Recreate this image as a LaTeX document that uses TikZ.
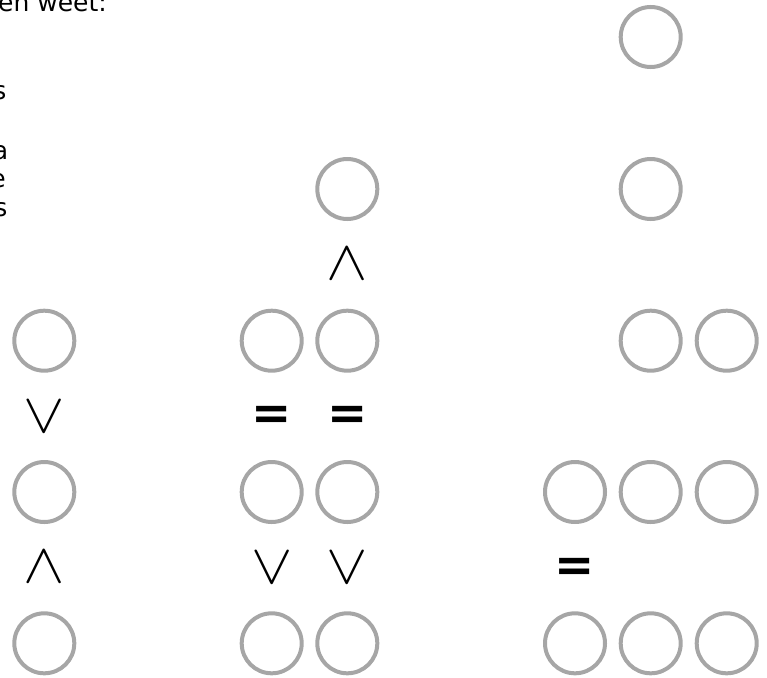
\documentclass[tikz,border=0pt]{standalone}
\usepackage{graphicx}
\usepackage{fontspec}
\setmainfont{DejaVu Sans}
\definecolor{ringgray}{RGB}{166,166,166}
\newcommand{\myvee}{\scalebox{6.2}[5.6]{$\vee$}}
\newcommand{\mywedge}{\scalebox{6.2}[5.6]{$\wedge$}}
\begin{document}
\begin{tikzpicture}[x=1pt,y=-1pt,
  ring/.style={circle,draw=ringgray,line width=4pt,minimum size=60pt,inner sep=0pt},
  cmp/.style={inner sep=0pt},
  eqsym/.style={inner sep=0pt,font=\fontsize{48}{48}\selectfont\bfseries},
  cut/.style={inner sep=0pt,anchor=base east,font=\fontsize{25}{29}\selectfont}]
\useasboundingbox (0,0) rectangle (767,677);
\clip (0,0) rectangle (767,677);
% cropped text fragments
\node[cut] (t1) at (107,12) {en weet:};
\node[cut] (t2) at (6.5,99) {s};
\node[cut] (t3) at (8.5,159) {a};
\node[cut] (t4) at (6,187) {e};
\node[cut] (t5) at (7.5,216) {s};
% column A
\node[ring] (a1) at (44.3,340.7) {};
\node[ring] (a2) at (44.3,492) {};
\node[ring] (a3) at (44.3,643.3) {};
\node[cmp] (av) at (44.3,416.7) {\myvee};
\node[cmp] (aw) at (44.3,567.3) {\mywedge};
% column B
\node[ring] (b0) at (347.3,189) {};
\node[ring] (b1l) at (271.7,340.7) {};
\node[ring] (b1r) at (347.3,340.7) {};
\node[ring] (b2l) at (271.7,492) {};
\node[ring] (b2r) at (347.3,492) {};
\node[ring] (b3l) at (271.7,643.3) {};
\node[ring] (b3r) at (347.3,643.3) {};
\node[cmp] (bw) at (347.3,264.3) {\mywedge};
\node[eqsym] (be1) at (271.7,418.3) {=};
\node[eqsym] (be2) at (347.3,418.3) {=};
\node[cmp] (bv1) at (271.7,568) {\myvee};
\node[cmp] (bv2) at (347.3,568) {\myvee};
% column C
\node[ring] (c0) at (650.7,37) {};
\node[ring] (c1) at (650.7,189) {};
\node[ring] (c2m) at (650.7,340.7) {};
\node[ring] (c2r) at (726.7,340.7) {};
\node[ring] (c3l) at (575,492) {};
\node[ring] (c3m) at (650.7,492) {};
\node[ring] (c3r) at (726.7,492) {};
\node[ring] (c4l) at (575,643.3) {};
\node[ring] (c4m) at (650.7,643.3) {};
\node[ring] (c4r) at (726.7,643.3) {};
\node[eqsym] (ce) at (575,570) {=};
\end{tikzpicture}
\end{document}
